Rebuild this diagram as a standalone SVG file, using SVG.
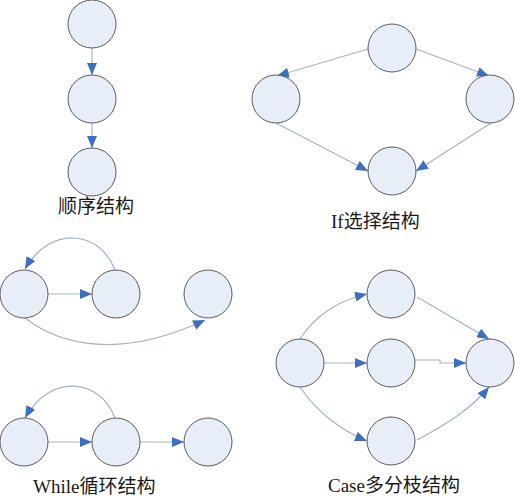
<svg xmlns="http://www.w3.org/2000/svg" width="515" height="503" viewBox="0 0 515 503">
<style>
.n{fill:#e8eef8;stroke:#5a5a5a;stroke-width:1}
.e{fill:none;stroke:#a3b3c6;stroke-width:1.2;marker-end:url(#ah)}
.t{font-family:"Liberation Serif","Noto Sans CJK SC",serif;font-size:19px;fill:#1a1a1a}
</style>
<defs>
<marker id="ah" viewBox="0 0 12 10" refX="12" refY="5" markerWidth="12" markerHeight="10" markerUnits="userSpaceOnUse" orient="auto">
<path d="M0,0 L12,5 L0,10 Z" fill="#3d6fc0"/>
</marker>
</defs>
<rect width="515" height="503" fill="#fff"/>
<g id="connectors">
<!-- sequence -->
<line class="e" x1="92" y1="48" x2="92" y2="75"/>
<line class="e" x1="92" y1="123" x2="92" y2="148"/>
<!-- if -->
<path class="e" d="M368,49 L277,76"/>
<path class="e" d="M416,49 L489,76"/>
<path class="e" d="M276,123 L368,171"/>
<path class="e" d="M491,123 L416,171"/>
<!-- while top -->
<line class="e" x1="48" y1="294" x2="92" y2="294"/>
<path class="e" d="M115,270 C100,230 50,225 25,269"/>
<path class="e" d="M25,318 C60,345 120,360 205,320"/>
<!-- while bottom -->
<line class="e" x1="48" y1="442" x2="92" y2="442"/>
<line class="e" x1="140" y1="442" x2="184" y2="442"/>
<path class="e" d="M115,418 C100,378 50,373 25,418"/>
<!-- case -->
<path class="e" d="M300,339 C315,315 340,300 367,294"/>
<line class="e" x1="324" y1="363" x2="367" y2="363"/>
<path class="e" d="M300,387 C315,410 340,430 367,441"/>
<path class="e" d="M417,297 L489,339"/>
<path class="e" d="M415,360 L440,360 L440,363 L466,363"/>
<path class="e" d="M417,440 C445,425 470,410 489,387"/>
</g>
<g id="seq1"><circle class="n" cx="92" cy="24" r="24"/></g>
<g id="seq2"><circle class="n" cx="92" cy="99" r="24"/></g>
<g id="seq3"><circle class="n" cx="92" cy="172" r="24"/></g>
<g id="if-top"><circle class="n" cx="392" cy="48" r="24"/></g>
<g id="if-left"><circle class="n" cx="276" cy="99" r="24"/></g>
<g id="if-right"><circle class="n" cx="490" cy="99" r="24"/></g>
<g id="if-bottom"><circle class="n" cx="392" cy="171" r="24"/></g>
<g id="w1a"><circle class="n" cx="24" cy="294" r="24"/></g>
<g id="w1b"><circle class="n" cx="116" cy="294" r="24"/></g>
<g id="w1c"><circle class="n" cx="208" cy="294" r="24"/></g>
<g id="w2a"><circle class="n" cx="24" cy="442" r="24"/></g>
<g id="w2b"><circle class="n" cx="116" cy="442" r="24"/></g>
<g id="w2c"><circle class="n" cx="208" cy="442" r="24"/></g>
<g id="c-left"><circle class="n" cx="300" cy="363" r="24"/></g>
<g id="c-top"><circle class="n" cx="391" cy="294" r="24"/></g>
<g id="c-mid"><circle class="n" cx="391" cy="363" r="24"/></g>
<g id="c-bot"><circle class="n" cx="391" cy="441" r="24"/></g>
<g id="c-right"><circle class="n" cx="490" cy="363" r="24"/></g>
<g id="labels">
<text class="t" x="58" y="213">顺序结构</text>
<text class="t" x="331" y="228">If选择结构</text>
<text class="t" x="33" y="493">While循环结构</text>
<text class="t" x="328" y="492">Case多分枝结构</text>
</g>
</svg>
